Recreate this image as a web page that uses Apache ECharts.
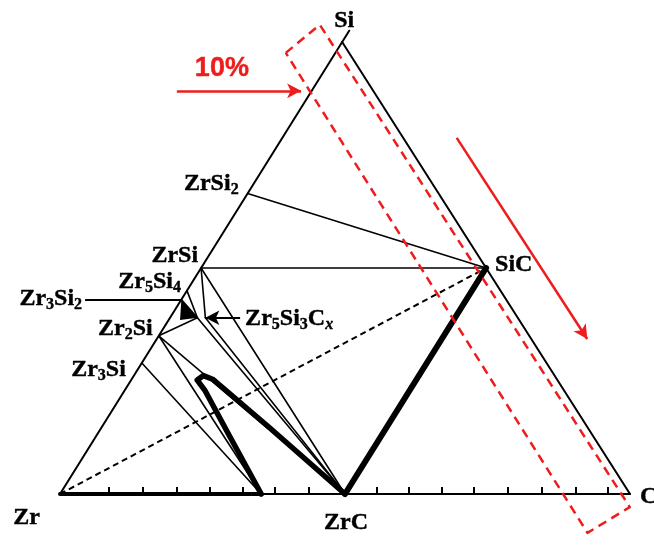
<!DOCTYPE html>
<html>
<head>
<meta charset="utf-8">
<script src="https://cdn.jsdelivr.net/npm/echarts@6/dist/echarts.min.js"></script>
<style>
  html, body { margin: 0; background: #fff; }
  #chart { width: 654px; height: 547px; }
</style>
</head>
<body>
<div id="chart"></div>
<script>
// compositions are [Si, C] atomic fractions, Zr = 1 - Si - C
const APEX = 0.495 // where the Si corner sits over the Zr-C base

const phaseNames = ['Zr', 'C', 'Si', 'ZrSi2', 'ZrSi', 'Zr5Si4', 'Zr3Si2', 'Zr2Si', 'Zr3Si', 'SiC', 'ZrC', 'ZrCmin', 'Zr5Si3Cx', 'Zr5Si3Cx2']
const phaseSi = [0, 0, 1, 0.665, 0.5, 0.45, 0.43, 0.35, 0.29, 0.5, 0, 0, 0.39, 0.39]
const phaseC = [0, 1, 0, 0, 0, 0, 0, 0, 0, 0.5, 0.5, 0.353, 0.048, 0.062]

// thin tie lines between phases
const tieLines = [
    ['ZrSi2', 'SiC'], ['ZrSi', 'SiC'], ['ZrSi', 'ZrC'], ['ZrSi', 'Zr5Si3Cx2'],
    ['Zr5Si4', 'Zr5Si3Cx'], ['Zr3Si2', 'Zr5Si3Cx'], ['Zr2Si', 'Zr5Si3Cx'],
    ['Zr5Si3Cx', 'ZrC'], ['Zr5Si3Cx2', 'ZrC'], ['Zr2Si', 'ZrC'],
    ['Zr2Si', 'ZrCmin'], ['Zr3Si', 'ZrCmin']
]
const thickLines = [['ZrC', 'SiC'], ['Zr', 'ZrCmin']]
const dashedLines = [['Zr', 'SiC']]

// thick loop boundary [Si, C]
const loopSi = [0, 0.126, 0.23, 0.252, 0.262, 0.254, 0.146, 0]
const loopC = [0.353, 0.236, 0.14, 0.116, 0.122, 0.142, 0.296, 0.5]

// small filled three-phase region [Si, C]
const blobSi = [0.43, 0.39, 0.385]
const blobC = [0, 0.048, 0.02]

// ticks along the Zr-C base (C fraction)
const baseTicks = [0.085, 0.145, 0.204, 0.262, 0.320, 0.377, 0.436, 0.555, 0.612, 0.670, 0.726, 0.786, 0.846, 0.904, 0.961]

// dashed 10% band along the Si-C side, corners [Si, C]
const bandSi = [0.976, 1.038, -0.029, -0.086, 0.976]
const bandC = [-0.087, -0.058, 1.014, 0.968, -0.087]

// annotation anchors in plot coordinates [x, y]
const pointerStart = [0.044, 0.43]
const cxArrowStart = [0.316, 0.39]
const redArrowLeft = [[0.205, 0.892], [0.423, 0.892]]
const redArrowRight = [[0.696, 0.788], [0.925, 0.343]]
const percentAt = [0.284, 0.942]

const labelTexts = {
    Si: '{n|Si}',
    ZrSi2: '{n|ZrSi}{s|2}',
    ZrSi: '{n|ZrSi}',
    Zr5Si4: '{n|Zr}{s|5}{n|Si}{s|4}',
    Zr3Si2: '{n|Zr}{s|3}{n|Si}{s|2}',
    Zr2Si: '{n|Zr}{s|2}{n|Si}',
    Zr3Si: '{n|Zr}{s|3}{n|Si}',
    Zr: '{n|Zr}',
    ZrC: '{n|ZrC}',
    C: '{n|C}',
    SiC: '{n|SiC}',
    Zr5Si3Cx: '{n|Zr}{s|5}{n|Si}{s|3}{n|C}{x|x}'
}

const toXY = p => [p[1] + APEX * p[0], p[0]]
const ph = name => { const i = phaseNames.indexOf(name); return [phaseSi[i], phaseC[i]] }
const zip = (a, b) => a.map((v, i) => [v, b[i]])

const INK = '#000'
const RED = '#ee1c1c'
const serif = 'Liberation Serif'

function lineSeries(points, width, color, type) {
    return {
        type: 'line', data: points.map(toXY), symbol: 'none', silent: true, z: 3, clip: false,
        lineStyle: { color: color, width: width, type: type || 'solid', cap: 'round', join: 'round' }
    }
}

const ink = { color: INK, textBorderColor: INK, textBorderWidth: 0.4 }
const rich = {
    n: Object.assign({ fontFamily: serif, fontWeight: 'bold', fontSize: 24, lineHeight: 24, verticalAlign: 'top' }, ink),
    s: Object.assign({ fontFamily: serif, fontWeight: 'bold', fontSize: 16, lineHeight: 16, padding: [10, 0, 0, 0], verticalAlign: 'top' }, ink),
    x: Object.assign({ fontFamily: serif, fontWeight: 'bold', fontStyle: 'italic', fontSize: 16, lineHeight: 16, padding: [10, 0, 0, 0], verticalAlign: 'top' }, ink)
}

function labelItem(xy, text, position, distance, offset) {
    return {
        value: xy,
        label: { show: true, formatter: text, position: position, distance: distance, offset: offset || [0, 0], rich: rich }
    }
}

const labels = [
    labelItem(toXY(ph('Si')), labelTexts.Si, 'top', 9, [2, 0]),
    labelItem(toXY(ph('ZrSi2')), labelTexts.ZrSi2, 'left', 9, [0, -10]),
    labelItem(toXY(ph('ZrSi')), labelTexts.ZrSi, 'left', 3, [0, -12]),
    labelItem(toXY(ph('Zr5Si4')), labelTexts.Zr5Si4, 'left', 6, [0, -9]),
    labelItem(pointerStart, labelTexts.Zr3Si2, 'left', 3, [0, -1]),
    labelItem(toXY(ph('Zr2Si')), labelTexts.Zr2Si, 'left', 6, [0, -7]),
    labelItem(toXY(ph('Zr3Si')), labelTexts.Zr3Si, 'left', 16, [0, 7]),
    labelItem(toXY(ph('Zr')), labelTexts.Zr, 'left', 20, [0, 24]),
    labelItem(toXY(ph('ZrC')), labelTexts.ZrC, 'bottom', 17, [1, 0]),
    labelItem(toXY(ph('C')), labelTexts.C, 'right', 10, [0, 3]),
    labelItem(toXY(ph('SiC')), labelTexts.SiC, 'right', 9, [0, -3]),
    labelItem(cxArrowStart, labelTexts.Zr5Si3Cx, 'right', 5, [0, 1])
]

const series = []
// triangle sides (base is the x axis line); the Zr-Si side runs a bit past the corner
series.push(lineSeries([ph('Zr'), [1.025, 0]], 2, INK))
series.push(lineSeries([ph('Si'), ph('C')], 2, INK))
tieLines.forEach(t => series.push(lineSeries([ph(t[0]), ph(t[1])], 1.6, INK)))
thickLines.forEach((t, i) => series.push(lineSeries([ph(t[0]), ph(t[1])], i === 0 ? 6 : 4, INK)))
dashedLines.forEach(t => {
    const s = lineSeries([ph(t[0]), ph(t[1])], 2, INK, [6, 4])
    s.lineStyle.cap = 'butt'
    series.push(s)
})
series.push(lineSeries(zip(loopSi, loopC), 5.5, INK))
series.push({
    type: 'custom', silent: true, z: 3, data: [0],
    renderItem: function (params, api) {
        return {
            type: 'polygon',
            shape: { points: zip(blobSi, blobC).map(p => api.coord(toXY(p))) },
            style: { fill: INK }
        }
    }
})
// red 10% band
const band = lineSeries(zip(bandSi, bandC), 2.5, RED, [9, 6])
band.lineStyle.cap = 'butt'
band.z = 4
series.push(band)
// arrows
series.push({
    type: 'line', data: [], silent: true, z: 5,
    markLine: {
        silent: true, animation: false, symbol: ['none', 'arrow'], symbolSize: [11, 14],
        label: { show: false },
        data: [
            [{ coord: redArrowLeft[0], lineStyle: { color: RED, width: 2.5, type: 'solid' } }, { coord: redArrowLeft[1] }],
            [{ coord: redArrowRight[0], lineStyle: { color: RED, width: 2.5, type: 'solid' } }, { coord: redArrowRight[1] }],
            [{ coord: cxArrowStart, symbolSize: [9, 12], lineStyle: { color: INK, width: 2, type: 'solid' } }, { coord: toXY(ph('Zr5Si3Cx2')) }],
            [{ coord: pointerStart, symbol: 'none', lineStyle: { color: INK, width: 2, type: 'solid' } }, { coord: toXY(ph('Zr3Si2')), symbol: 'none' }]
        ]
    }
})
// text labels (scatter defaults to 0.8 opacity, which also fades labels)
series.push({ type: 'scatter', symbolSize: 0, silent: true, z: 6, itemStyle: { opacity: 1 }, data: labels })
series.push({
    type: 'scatter', symbolSize: 0, silent: true, z: 6, itemStyle: { opacity: 1 },
    data: [{
        value: percentAt,
        label: {
            show: true, position: 'inside', formatter: '10%', color: RED, textBorderColor: RED, textBorderWidth: 0.4,
            fontFamily: 'Liberation Sans', fontWeight: 'bold', fontSize: 27
        }
    }]
})

const chart = echarts.init(document.getElementById('chart'))
chart.setOption({
    animation: false,
    backgroundColor: '#fff',
    grid: { left: 60, right: 24, top: 42, bottom: 53 },
    xAxis: {
        type: 'value', min: 0, max: 1,
        axisLine: { show: true, lineStyle: { color: INK, width: 2 } },
        axisTick: { show: true, inside: true, length: 7, customValues: baseTicks, lineStyle: { color: INK, width: 2 } },
        axisLabel: { show: false },
        splitLine: { show: false }
    },
    yAxis: { type: 'value', min: 0, max: 1, show: false },
    series: series
})
</script>
</body>
</html>
